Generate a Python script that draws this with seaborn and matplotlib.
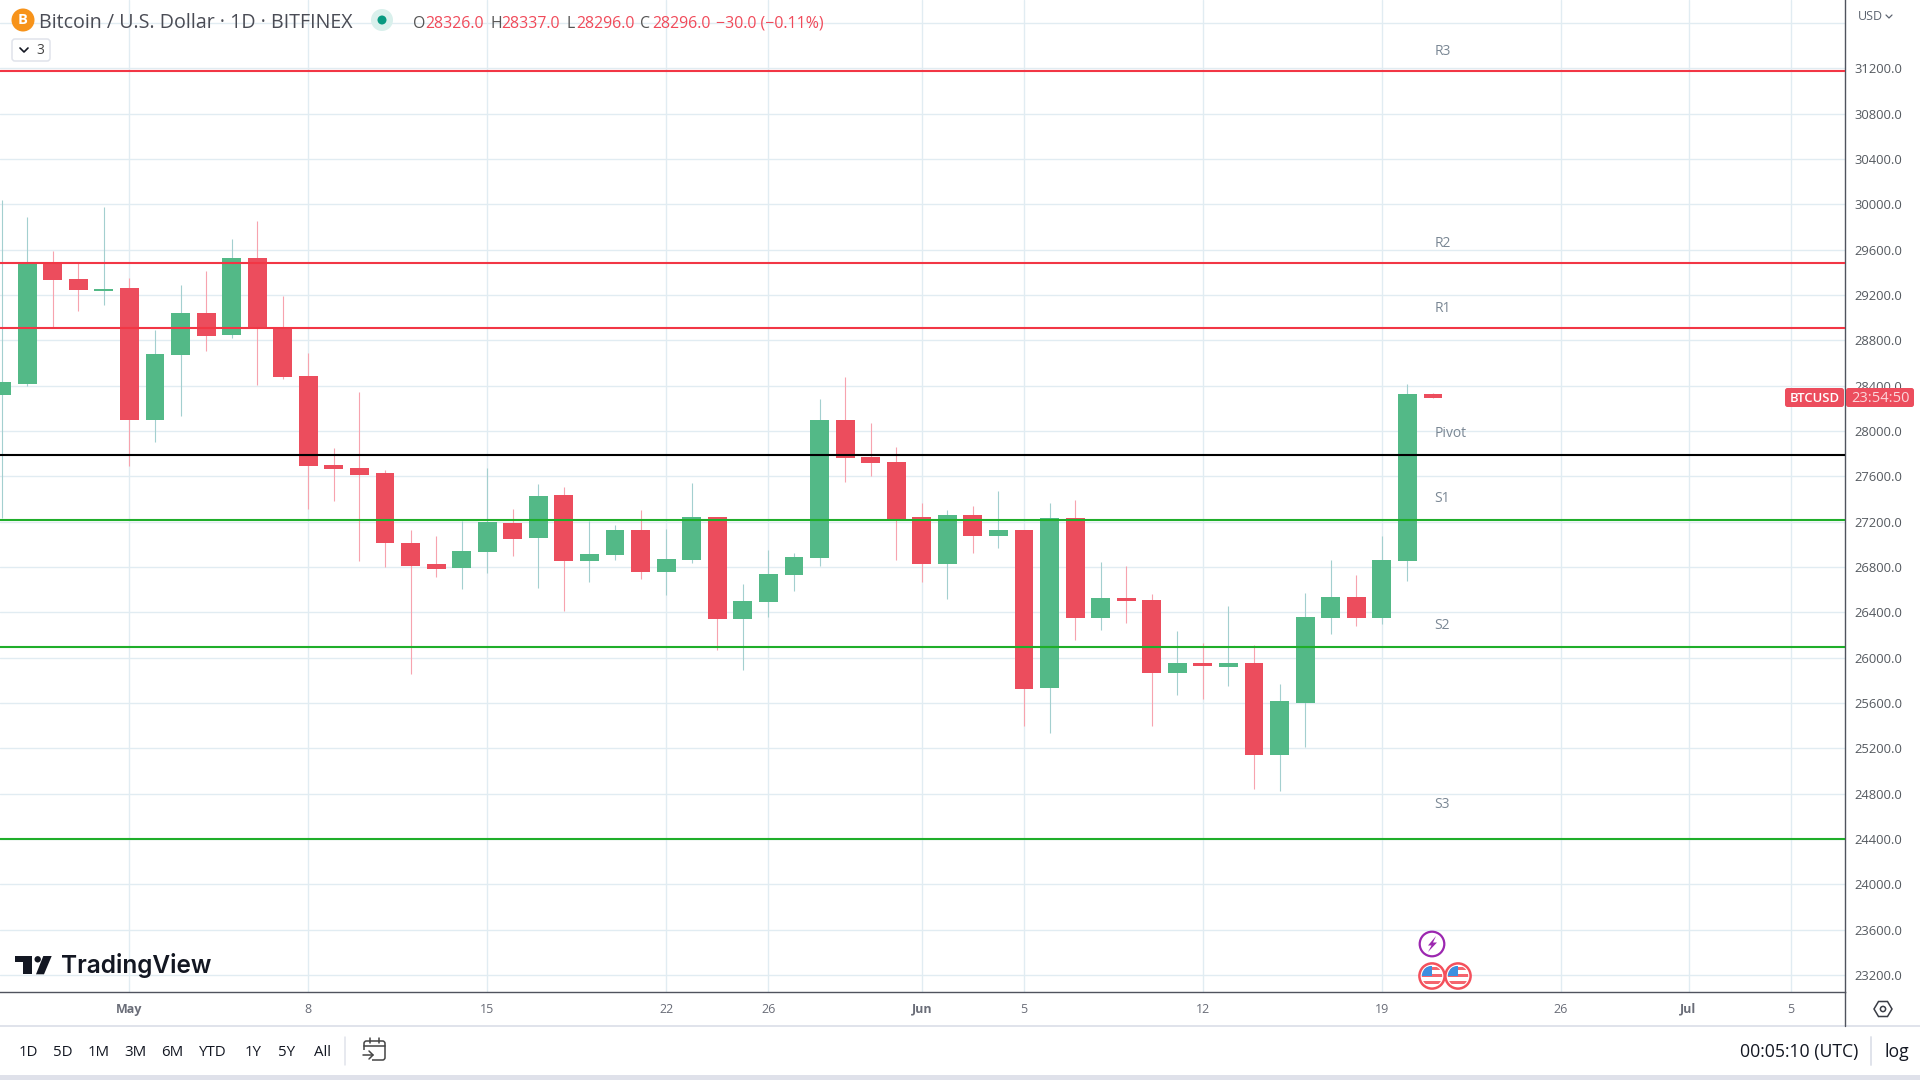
import numpy as np
import pandas as pd
import matplotlib
matplotlib.use("Agg")
import matplotlib.pyplot as plt
from matplotlib.patches import Circle, Rectangle, FancyBboxPatch, Polygon
import seaborn as sns

# ---- data ----
days = list(range(-5, 52))   # days relative to 1 May
opens = [28318,28415,29480,29342,29240,29262,28100,28674,29042,28850,29527,28912,28486,27701,27674,27630,27012,26827,
         26795,26936,27189,27059,27436,26856,26909,27127,26759,26862,27242,26345,26492,26730,26883,28098,27771,27727,
         27242,26827,27259,27074,27127,25733,27233,26350,26527,26509,25865,25954,25918,25954,25142,25603,26350,
         26536,26350,26853,28326]
closes = [28433,29480,29336,29248,29252,28100,28680,29042,28842,29527,28912,28480,27695,27668,27615,27015,26812,26786,
          26942,27197,27051,27427,26856,26915,27127,26759,26871,27242,26345,26501,26739,26889,28098,27765,27718,27224,
          26827,27259,27074,27127,25724,27233,26350,26527,26500,25865,25954,25927,25954,25142,25618,26359,26536,
          26350,26862,28327,28296]
highs = [30039,29889,29589,29480,29974,29350,28892,29289,29412,29695,29853,29192,28689,27851,28345,27656,27127,27074,
         27209,27674,27312,27533,27506,27203,27171,27303,27136,27542,27242,26650,26951,26924,28283,28477,28071,27859,
         27365,27303,27339,27471,27130,27365,27392,26845,26809,26562,26236,26130,26456,26112,25768,26571,26862,
         26730,27074,28415,28337]
lows = [27236,28400,28912,29062,29115,27692,27906,28133,28706,28824,28406,28459,27312,27386,26856,26803,25859,26715,
        26609,26750,26900,26618,26415,26671,26865,26695,26553,26836,26071,25892,26359,26589,26809,27551,27603,26862,
        26668,26518,26924,26968,25398,25336,26156,26245,26306,25398,25671,25636,25750,24842,24824,25212,26209,
        26280,26297,26677,28296]
level_names = ["R3", "R2", "R1", "Pivot", "S1", "S2", "S3"]
level_values = [31180, 29486, 28912, 27789, 27215, 26095, 24402]
level_colors = ["#f23645", "#f23645", "#f23645", "#000000", "#1fae2a", "#1fae2a", "#1fae2a"]
price_ticks = list(range(23200, 31601, 400))
date_ticks = [0, 7, 14, 21, 25, 31, 35, 42, 49, 56, 61, 65]
date_labels = ["May", "8", "15", "22", "26", "Jun", "5", "12", "19", "26", "Jul", "5"]
month_labels = {"May", "Jun", "Jul"}
ranges = ["1D", "5D", "1M", "3M", "6M", "YTD", "1Y", "5Y", "All"]

UP, DOWN = "#53b987", "#ec4d5d"
UP_W, DOWN_W = "#a3cfcf", "#f7a3ae"
GRID = "#e1ecf2"
AXIS = "#50535e"

sns.set_theme(style="white")
plt.rcParams["font.family"] = ["Open Sans", "DejaVu Sans"]

df = pd.DataFrame({"day": days, "open": opens, "close": closes, "high": highs, "low": lows})
df["bottom"] = df[["open", "close"]].min(axis=1)
df["size"] = (df["open"] - df["close"]).abs().clip(lower=10)
df["up"] = df["close"] >= df["open"]

fig = plt.figure(figsize=(19.2, 10.8), dpi=100, facecolor="white")
AX_R, AX_B = 1845.0, 992.3
ax = fig.add_axes([0, 1 - AX_B / 1080, AX_R / 1920, AX_B / 1080])

for is_up, col, wick in [(True, UP, UP_W), (False, DOWN, DOWN_W)]:
    sub = df[df["up"] == is_up]
    ax.vlines(sub["day"], sub["low"], sub["high"], color=wick, lw=0.8, zorder=1.5)
    sns.barplot(data=sub, x="day", y="size", bottom=sub["bottom"].to_numpy(), native_scale=True,
                width=0.74, color=col, saturation=1, errorbar=None, linewidth=0, zorder=2, ax=ax)

label_offsets = [14.1, 14.1, 14.1, 15.8, 15.8, 15.3, 24.7]
for name, val, col, off in zip(level_names, level_values, level_colors, label_offsets):
    ax.axhline(val, color=col, lw=1.5, zorder=3)
    ax.annotate(name, xy=(51.05, val), xytext=(0, off), textcoords="offset points",
                color="#7a8794", fontsize=10, va="center", ha="left", zorder=4)

ax.set_xlim(-129.4 / 25.56, (AX_R - 129.4) / 25.56)
ax.set_ylim(31200 - (AX_B - 68.4) / 0.11333, 31200 + 68.4 / 0.11333)
ax.set_xlabel("")
ax.set_ylabel("")
ax.set_xticks(date_ticks)
ax.set_xticklabels(date_labels)
ax.set_yticks(price_ticks)
ax.set_yticklabels([f"{p:.1f}" if p != 31600 else "" for p in price_ticks])
ax.yaxis.tick_right()
ax.tick_params(axis="y", length=0, pad=6.5, labelsize=9.4, labelcolor="#555a60")
ax.tick_params(axis="x", length=0, pad=7.5, labelsize=9, labelcolor="#6a6d78")
for lab in ax.get_xticklabels():
    if lab.get_text() in month_labels:
        lab.set_fontweight("bold")
ax.grid(True, color=GRID, lw=1.0, zorder=0.5)
ax.set_axisbelow(True)
for s in ["top", "left"]:
    ax.spines[s].set_visible(False)
for s in ["right", "bottom"]:
    ax.spines[s].set_color(AXIS)
    ax.spines[s].set_linewidth(1.0)

# ---- window chrome in pixel coordinates ----
ov = fig.add_axes([0, 0, 1, 1], facecolor="none", zorder=10)
ov.set_xlim(0, 1920)
ov.set_ylim(1080, 0)
ov.axis("off")
SEP = "#e0e3eb"
TXT = "#131722"
RED = "#f04a5a"

ov.plot([0, 1920], [1026, 1026], color=SEP, lw=1.4)
ov.plot([AX_R, AX_R], [992, 1026], color=AXIS, lw=1.0)
ov.add_patch(Rectangle((0, 1075), 1920, 5, color="#dfe1ea", lw=0))

# header
ov.add_patch(Circle((23, 20), 11.5, color="#f7931a", lw=0))
ov.text(23, 20, "B", color="white", fontsize=10.5, fontweight="bold", ha="center", va="center")
ov.text(39, 23, "Bitcoin / U.S. Dollar · 1D · BITFINEX", color="#4a4c55", fontsize=14.1, va="center", ha="left")
ov.add_patch(Circle((382, 20), 11, color="#d9f0ec", lw=0))
ov.add_patch(Circle((382, 20), 4.5, color="#089981", lw=0))
for x, t, c in [(413, "O", "#555"), (425, "28326.0", RED), (491, "H", "#555"), (501, "28337.0", RED),
                (567, "L", "#555"), (576, "28296.0", RED), (640, "C", "#555"), (652, "28296.0", RED),
                (716, "−30.0 (−0.11%)", RED)]:
    ov.text(x, 23.5, t, color=c, fontsize=11.4, va="center", ha="left")
ov.add_patch(FancyBboxPatch((12, 39), 38, 22, boxstyle="round,pad=0,rounding_size=3", fc="white", ec=SEP, lw=1.1))
ov.plot([20, 24, 28], [48, 52, 48], color=TXT, lw=1.2)
ov.text(40, 50, "3", color="#444", fontsize=10, ha="center", va="center")

# currency, tag
ov.text(1858, 17, "USD", color="#5d6470", fontsize=9, va="center", ha="left")
ov.plot([1886, 1889, 1892], [15, 18, 15], color="#5d6470", lw=0.9)
ov.add_patch(FancyBboxPatch((1785, 388), 59, 19, boxstyle="round,pad=0,rounding_size=2.5", fc=DOWN, ec="none"))
ov.add_patch(FancyBboxPatch((1846, 388), 68, 19, boxstyle="round,pad=0,rounding_size=2.5", fc=DOWN, ec="none"))
ov.text(1814.5, 398, "BTCUSD", color="white", fontsize=9.4, fontweight="semibold", ha="center", va="center")
ov.text(1880, 398, "23:54:50", color="#fbd5da", fontsize=10.5, ha="center", va="center")

# event icons
ov.add_patch(Circle((1432, 944), 12.3, fc="white", ec="#9c27b0", lw=1.6))
ov.add_patch(Polygon([(1436, 936), (1428, 945.5), (1431.5, 945.5), (1428, 952), (1437, 942.5), (1433, 942.5)],
                     color="#9c27b0", lw=0))
for cx in (1432, 1458):
    ring = Circle((cx, 976), 12.6, fc="white", ec="#f4505c", lw=1.8)
    ov.add_patch(ring)
    clip = Circle((cx, 976), 10.2, transform=ov.transData)
    for y0, h in [(967, 3), (973.5, 3.5), (980.5, 3.5)]:
        r = Rectangle((cx - 11, y0), 22, h, color="#f4656f", lw=0)
        ov.add_patch(r)
        r.set_clip_path(clip)
    c = Rectangle((cx - 11, 966), 11, 10, color="#3d8fe0", lw=0)
    ov.add_patch(c)
    c.set_clip_path(clip)

# TradingView logo
ov.add_patch(Polygon([(15, 956), (32.3, 956), (32.3, 974.3), (23.3, 974.3), (23.3, 962.3), (15, 962.3)], color=TXT, lw=0))
ov.add_patch(Circle((37.7, 959.3), 3.2, color=TXT, lw=0))
ov.add_patch(Polygon([(43.3, 956), (51.7, 956), (44, 974.3), (36, 974.3)], color=TXT, lw=0))
ov.text(61, 966, "TradingView", color=TXT, fontsize=17.6, fontweight="semibold", family="Inter", va="center", ha="left")

# settings hexagon
ov.add_patch(Polygon([(1874, 1009), (1878.5, 1001.5), (1887.5, 1001.5), (1892, 1009), (1887.5, 1016.5), (1878.5, 1016.5)],
                     fc="none", ec="#3a3d46", lw=1.1))
ov.add_patch(Circle((1883, 1009), 2.6, fc="none", ec="#3a3d46", lw=1.1))

# bottom toolbar
for cx, t in zip([28, 63, 99, 135, 172, 213, 253, 287, 322], ranges):
    ov.text(cx, 1052, t, color=TXT, fontsize=10.8, ha="center", va="center")
ov.plot([345, 345], [1037, 1065], color=SEP, lw=1.1)
ov.add_patch(FancyBboxPatch((364, 1041), 21, 19, boxstyle="round,pad=0,rounding_size=2.5", fc="none", ec="#444", lw=1.1))
ov.add_patch(Rectangle((362, 1050), 10, 11, color="white", lw=0))
ov.plot([364, 385], [1046, 1046], color="#444", lw=1.1)
ov.plot([370, 370], [1038, 1043], color="#444", lw=1.1)
ov.plot([379, 379], [1038, 1043], color="#444", lw=1.1)
ov.plot([363, 373], [1055, 1055], color="#444", lw=1.1)
ov.plot([369, 373, 369], [1051, 1055, 1059], color="#444", lw=1.1)
ov.text(1740, 1052, "00:05:10 (UTC)", color=TXT, fontsize=12.7, va="center", ha="left")
ov.plot([1871, 1871], [1037, 1065], color=SEP, lw=1.4)
ov.text(1884, 1052, "log", color=TXT, fontsize=12.7, va="center", ha="left")

fig.savefig("out.png", dpi=100)
